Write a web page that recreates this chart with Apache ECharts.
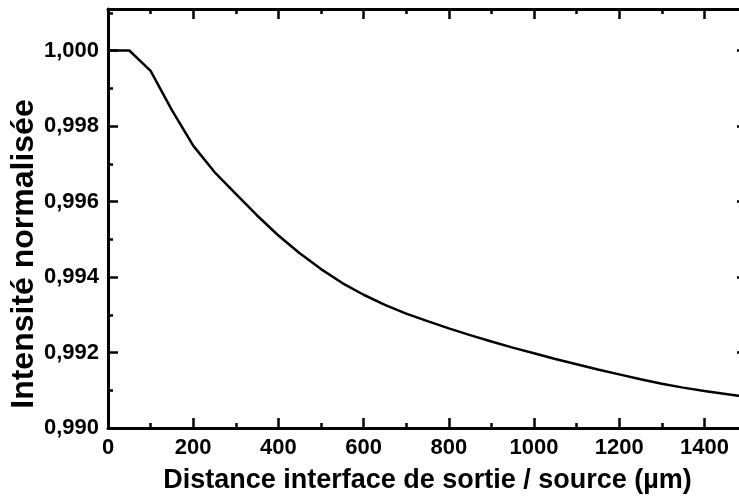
<!DOCTYPE html>
<html>
<head>
<meta charset="utf-8">
<script src="https://cdn.jsdelivr.net/npm/echarts@6/dist/echarts.min.js"></script>
<style>html,body{margin:0;padding:0;background:#fff;overflow:hidden;width:739px;height:500px}#c{width:760px;height:500px}</style>
</head>
<body>
<div id="c"></div>
<script>
const distances = [0,50,100,150,200,250,300,350,400,450,500,550,600,650,700,750,800,850,900,950,1000,1050,1100,1150,1200,1250,1300,1350,1400,1450,1500];
const intensity = [1.00000,1.00000,0.99946,0.99842,0.99748,0.99678,0.99620,0.99563,0.99510,0.99463,0.99421,0.99384,0.99353,0.99326,0.99303,0.99283,0.99264,0.99246,0.99229,0.99213,0.99198,0.99183,0.99169,0.99155,0.99142,0.99129,0.99117,0.99107,0.99098,0.99090,0.99082];
const xTickLabels = ['0','200','400','600','800','1000','1200','1400'];
const yTickLabels = ['0,990','0,992','0,994','0,996','0,998','1,000'];
const xTitle = 'Distance interface de sortie / source (µm)';
const yTitle = 'Intensité normalisée';

const font = 'Liberation Sans, Arial, sans-serif';
const lineStyle = {color:'#000', width:3};
const tickMajor = {show:true, inside:true, length:10, lineStyle:{color:'#000', width:2.5}};
const tickMinor = {show:true, splitNumber:2, length:5, lineStyle:{color:'#000', width:2.5}};

const chart = echarts.init(document.getElementById('c'), null, {renderer:'canvas'});
chart.setOption({
  animation:false,
  backgroundColor:'#fff',
  grid:{left:108, right:13, top:9, bottom:72, containLabel:false, outerBoundsMode:'none'},
  xAxis:[{
    type:'value', min:0, max:1500, interval:200, position:'bottom',
    axisLine:{show:true, onZero:false, lineStyle:lineStyle},
    axisTick:tickMajor, minorTick:tickMinor, splitLine:{show:false},
    axisLabel:{show:true, margin:9, showMaxLabel:false, color:'#000', fontFamily:font, fontWeight:'bold', fontSize:22,
      formatter:function(v){const i=Math.round(v/200); return (Math.abs(v-i*200)<1e-6 && xTickLabels[i]!==undefined)?xTickLabels[i]:'';}},
    name:xTitle, nameLocation:'middle', nameGap:39, nameMoveOverlap:false,
    nameTextStyle:{color:'#000', fontFamily:font, fontWeight:'bold', fontSize:27}
  },{
    type:'value', min:0, max:1500, interval:200, position:'top',
    axisLine:{show:true, onZero:false, lineStyle:lineStyle},
    axisTick:tickMajor, minorTick:tickMinor, splitLine:{show:false}, axisLabel:{show:false}
  }],
  yAxis:[{
    type:'value', min:0.990, max:1.0011, interval:0.002, position:'left',
    axisLine:{show:true, onZero:false, lineStyle:lineStyle},
    axisTick:tickMajor, minorTick:tickMinor, splitLine:{show:false},
    axisLabel:{show:true, margin:9, showMaxLabel:false, color:'#000', fontFamily:font, fontWeight:'bold', fontSize:22,
      formatter:function(v){const i=Math.round((v-0.990)/0.002); return (Math.abs(v-(0.990+i*0.002))<1e-7 && yTickLabels[i]!==undefined)?yTickLabels[i]:'';}},
    name:yTitle, nameLocation:'middle', nameGap:68, nameMoveOverlap:false,
    nameTextStyle:{color:'#000', fontFamily:font, fontWeight:'bold', fontSize:32, padding:[0,71,0,0]}
  },{
    type:'value', min:0.990, max:1.0011, interval:0.002, position:'right',
    axisLine:{show:true, onZero:false, lineStyle:lineStyle},
    axisTick:tickMajor, minorTick:tickMinor, splitLine:{show:false}, axisLabel:{show:false}
  }],
  series:[{
    type:'line', xAxisIndex:0, yAxisIndex:0, showSymbol:false, smooth:false,
    lineStyle:{color:'#000', width:2.5}, itemStyle:{color:'#000'},
    data:distances.map((d,i)=>[d,intensity[i]])
  }]
});
</script>
</body>
</html>
